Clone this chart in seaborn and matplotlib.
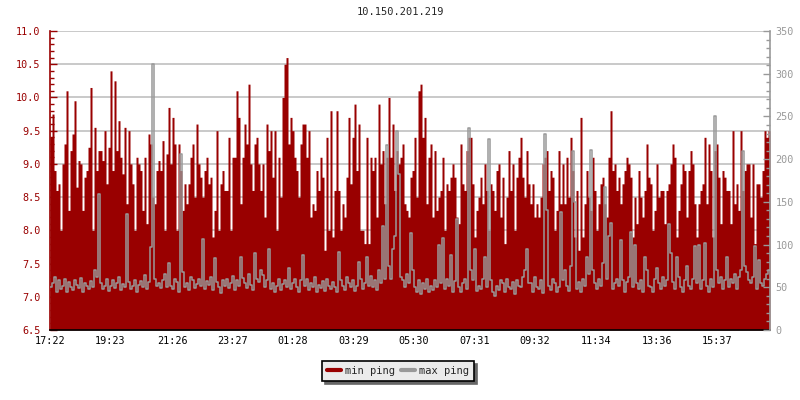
import pandas as pd
import matplotlib.pyplot as plt
import matplotlib.dates as mdates
from matplotlib.lines import Line2D
from matplotlib.ticker import MultipleLocator
import seaborn as sns

title = "10.150.201.219"
start = "2024-01-01 17:22"
step_min = 4

# min ping (ms, left axis), one value every 4 minutes
min_ping = [
    9.4, 9.75, 8.9, 8.6, 8.7, 8.0, 9.0, 9.3, 10.1, 8.3, 9.2, 9.45, 9.95, 8.65, 9.05, 9.0, 8.3, 8.8, 8.9, 9.25,
    10.15, 8.0, 9.55, 8.9, 9.2, 9.2, 9.05, 9.5, 8.7, 9.25, 10.4, 8.9, 10.25, 9.2, 9.65, 9.1, 8.85, 9.55, 8.4, 9.5,
    9.0, 8.7, 8.0, 9.1, 9.0, 8.9, 8.3, 9.1, 8.1, 9.45, 9.3, 8.5, 8.4, 8.9, 9.05, 8.9, 9.35, 8.0, 9.15, 9.85,
    9.0, 9.7, 9.3, 8.0, 9.3, 8.9, 8.3, 8.7, 8.4, 8.7, 9.1, 9.3, 8.5, 9.6, 9.0, 8.8, 8.5, 8.9, 9.1, 8.7,
    8.8, 7.9, 8.3, 9.5, 8.0, 8.7, 8.9, 8.6, 8.6, 9.4, 8.0, 9.1, 9.1, 10.1, 9.7, 8.4, 9.1, 9.6, 9.3, 10.2,
    9.0, 8.6, 9.3, 9.4, 9.0, 8.6, 9.0, 8.2, 9.6, 9.2, 9.5, 8.8, 9.5, 8.0, 9.1, 8.5, 10.0, 10.5, 10.6, 9.3,
    9.7, 9.5, 9.1, 8.9, 8.5, 9.3, 9.6, 9.6, 9.1, 9.5, 8.2, 8.4, 8.3, 8.9, 8.6, 9.1, 8.8, 7.7, 9.4, 8.0,
    9.8, 7.9, 8.6, 9.8, 8.6, 8.0, 8.4, 8.2, 8.8, 9.7, 8.7, 9.4, 9.9, 8.9, 9.6, 8.0, 8.0, 7.8, 9.4, 7.8,
    9.1, 8.9, 9.1, 8.2, 9.9, 9.0, 9.2, 8.4, 9.1, 10.0, 9.1, 9.6, 8.6, 9.2, 9.0, 9.1, 9.3, 8.4, 8.3, 8.2,
    8.8, 8.9, 9.4, 8.5, 10.1, 10.2, 9.4, 9.7, 8.4, 9.1, 9.3, 8.2, 9.2, 8.3, 8.5, 8.6, 9.1, 8.0, 8.7, 8.6,
    8.8, 9.0, 8.8, 8.2, 8.1, 9.3, 8.7, 8.6, 9.2, 9.4, 9.4, 8.7, 7.9, 8.3, 8.5, 8.8, 8.4, 9.0, 8.6, 8.0,
    8.7, 8.6, 8.3, 8.9, 9.0, 8.2, 8.8, 7.8, 8.5, 9.2, 8.6, 9.0, 8.0, 8.8, 9.1, 9.4, 8.8, 8.5, 9.2, 8.7,
    8.4, 8.7, 8.2, 8.4, 8.2, 8.5, 9.0, 9.1, 9.2, 8.6, 8.9, 8.8, 8.0, 8.3, 9.2, 8.4, 9.0, 8.4, 9.1, 8.5,
    9.4, 8.9, 7.9, 8.6, 7.7, 9.7, 7.9, 8.4, 8.9, 8.5, 8.3, 9.1, 8.6, 8.0, 8.4, 8.7, 8.8, 8.4, 8.2, 9.1,
    9.8, 8.9, 9.0, 8.6, 8.8, 8.4, 8.7, 8.9, 9.1, 9.0, 8.8, 7.9, 8.5, 8.1, 8.9, 8.5, 8.2, 8.6, 9.3, 8.8,
    8.7, 8.0, 8.3, 9.0, 8.5, 8.6, 8.6, 8.1, 8.6, 8.7, 9.0, 9.3, 9.1, 7.9, 8.3, 8.7, 9.0, 8.9, 8.2, 8.9,
    9.2, 9.0, 8.4, 7.9, 8.4, 8.6, 8.7, 9.4, 8.4, 9.3, 8.9, 7.9, 9.2, 9.3, 8.8, 8.1, 8.9, 8.8, 8.6, 8.6,
    8.1, 9.5, 8.4, 8.7, 8.3, 9.5, 8.6, 8.9, 9.0, 9.0, 8.2, 9.0, 7.8, 8.7, 8.7, 8.5, 8.9, 9.5, 9.4, 9.5,
]

# max ping (ms, right axis)
max_ping = [
    50, 55, 62, 45, 58, 48, 52, 60, 44, 56, 50, 47, 58, 53, 49, 61, 45, 55, 52, 48,
    57, 50, 70, 62, 159, 55, 48, 52, 60, 46, 51, 58, 49, 55, 62, 47, 54, 50, 136, 56,
    48, 52, 59, 45, 53, 57, 50, 64, 48, 56, 97, 311, 60, 52, 55, 49, 58, 66, 50, 78,
    52, 48, 60, 56, 45, 206, 68, 50, 55, 47, 62, 58, 49, 54, 60, 51, 107, 48, 57, 53,
    62, 47, 84, 56, 50, 43, 58, 52, 60, 49, 55, 63, 47, 58, 52, 85, 61, 55, 49, 66,
    53, 47, 90, 60, 56, 70, 64, 50, 58, 95, 48, 55, 45, 52, 60, 47, 54, 58, 50, 73,
    48, 55, 60, 50, 45, 58, 88, 52, 60, 47, 55, 50, 62, 44, 53, 49, 57, 46, 60, 52,
    48, 56, 50, 45, 91, 58, 52, 47, 62, 55, 50, 58, 46, 52, 80, 60, 48, 55, 85, 52,
    63, 50, 58, 47, 70, 55, 122, 60, 216, 75, 60, 95, 110, 233, 183, 62, 58, 50, 66, 55,
    113, 70, 50, 45, 58, 42, 55, 48, 60, 44, 52, 47, 58, 50, 100, 55, 108, 48, 60, 52,
    88, 45, 57, 130, 50, 44, 55, 60, 48, 237, 70, 58, 95, 46, 52, 48, 60, 85, 50, 224,
    58, 45, 40, 52, 47, 58, 55, 44, 60, 50, 48, 56, 42, 58, 52, 50, 62, 70, 95, 55,
    55, 45, 62, 50, 48, 58, 43, 229, 140, 52, 47, 60, 55, 45, 50, 138, 58, 70, 52, 46,
    75, 210, 150, 48, 56, 44, 60, 52, 85, 65, 211, 70, 55, 48, 60, 52, 78, 167, 60, 110,
    125, 48, 55, 60, 52, 105, 58, 45, 56, 62, 115, 50, 100, 55, 48, 58, 44, 85, 70, 52,
    50, 45, 60, 72, 55, 48, 62, 52, 58, 124, 90, 56, 48, 85, 62, 50, 45, 58, 75, 52,
    48, 60, 98, 55, 100, 48, 58, 102, 52, 45, 60, 50, 251, 70, 55, 62, 48, 58, 85, 50,
    60, 55, 65, 48, 62, 70, 209, 75, 68, 58, 55, 62, 98, 48, 82, 55, 52, 60, 66, 70,
]

tick_labels = ["17:22", "19:23", "21:26", "23:27", "01:28", "03:29",
               "05:30", "07:31", "09:32", "11:34", "13:36", "15:37"]

RED = "#990000"
GRAY = "#999999"

times = pd.date_range(start, periods=len(min_ping), freq=f"{step_min}min")
df = pd.DataFrame({"time": times, "min ping": min_ping, "max ping": max_ping})
end = times[-1] + pd.Timedelta(minutes=step_min)
# repeat last sample so the step runs to the right edge
plot_df = pd.concat([df, pd.DataFrame({"time": [end], "min ping": [min_ping[-1]],
                                       "max ping": [max_ping[-1]]})], ignore_index=True)

t0 = pd.Timestamp(start)
tick_times = []
for lab in tick_labels:
    t = pd.Timestamp(t0.strftime("%Y-%m-%d") + " " + lab)
    if t < t0:
        t += pd.Timedelta(days=1)
    tick_times.append(t)

sns.set_style("white")
plt.rcParams["font.family"] = ["DejaVu Sans Mono"]
plt.rcParams["font.size"] = 7.3

fig = plt.figure(figsize=(8, 4), dpi=100)
ax = fig.add_axes([50 / 800, 70 / 400, 720 / 800, 299 / 400])

ax.fill_between(plot_df["time"], 6.5, plot_df["min ping"], step="post",
                color=RED, linewidth=0, zorder=2)
ax.set_ylim(6.5, 11.0)
ax.set_xlim(t0, end)
ax.yaxis.set_major_locator(MultipleLocator(0.5))
ax.yaxis.set_minor_locator(MultipleLocator(0.1))
ax.yaxis.set_major_formatter(plt.FuncFormatter(lambda v, p: f"{v:.1f}"))
ax.grid(axis="y", color="#c0c0c0", linewidth=1.2)
ax.set_axisbelow(True)
ax.set_xticks(tick_times)
ax.set_xticklabels(tick_labels)
ax.tick_params(axis="x", direction="in", length=5, width=1, colors="black", pad=4)
ax.tick_params(axis="y", which="major", direction="in", length=5, width=1,
               colors=RED, labelcolor=RED, pad=7)
ax.tick_params(axis="y", which="minor", direction="in", length=3, width=1, colors=RED)
ax.spines["left"].set_color(RED)
ax.spines["left"].set_linewidth(1.2)
ax.spines["bottom"].set_color("black")
ax.spines["bottom"].set_linewidth(1.2)
ax.spines["top"].set_visible(False)
ax.spines["right"].set_visible(False)
ax.set_xlabel("")
ax.set_ylabel("")

ax2 = ax.twinx()
sns.lineplot(data=plot_df, x="time", y="max ping", ax=ax2, color=GRAY,
             drawstyle="steps-post", linewidth=1.1, zorder=3)
ax2.set_ylim(0, 350)
ax2.set_xlim(t0, end)
ax2.yaxis.set_major_locator(MultipleLocator(50))
ax2.yaxis.set_minor_locator(MultipleLocator(10))
ax2.tick_params(axis="y", which="major", direction="in", length=5, width=1,
                colors=GRAY, labelcolor=GRAY, pad=4)
ax2.tick_params(axis="y", which="minor", direction="in", length=3, width=1, colors=GRAY)
ax2.spines["right"].set_color(GRAY)
ax2.spines["right"].set_linewidth(1.2)
for s in ["left", "top", "bottom"]:
    ax2.spines[s].set_visible(False)
ax2.set_xlabel("")
ax2.set_ylabel("")
ax2.grid(False)

fig.text(0.5, 1 - 12 / 400, title, ha="center", va="center", fontsize=7.5)

handles = [Line2D([], [], color=RED, linewidth=3), Line2D([], [], color=GRAY, linewidth=3)]
leg = fig.legend(handles, ["min ping", "max ping"], loc="center",
                 bbox_to_anchor=(398 / 800, 1 - 371 / 400), ncol=2, frameon=True,
                 fancybox=False, shadow={"color": "#666666", "alpha": 1},
                 edgecolor="black", facecolor="#ebebeb", framealpha=1,
                 handlelength=1.3, handletextpad=0.4, columnspacing=0.6,
                 borderpad=0.5, fontsize=7.5)
leg.get_frame().set_linewidth(1.2)

plt.savefig("out.png", dpi=100)
plt.close()
